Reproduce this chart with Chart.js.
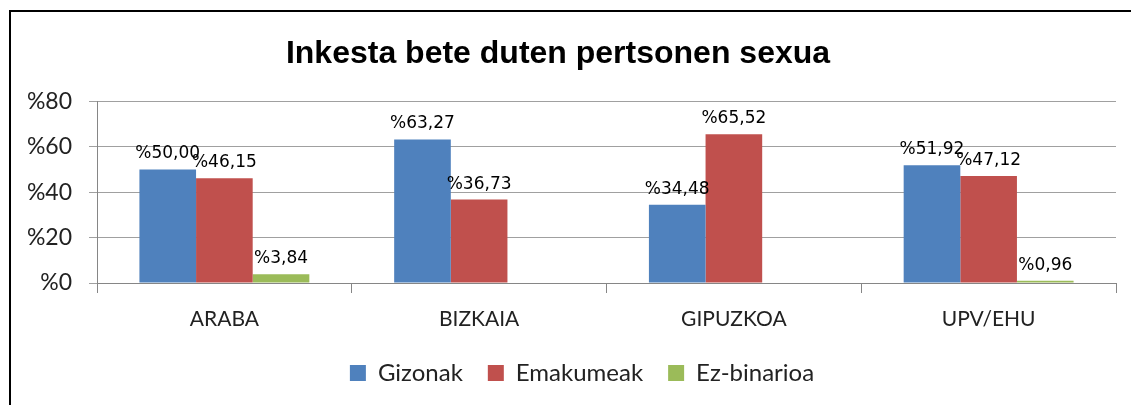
<!DOCTYPE html>
<html>
<head>
<meta charset="utf-8">
<script src="https://cdn.jsdelivr.net/npm/chart.js@4.4.0/dist/chart.umd.min.js"></script>
<style>
    html, body { margin: 0; padding: 0; background: #fff; }
    #wrap { position: relative; width: 1131px; height: 405px; overflow: hidden; }
    #frame { position: absolute; left: 9px; top: 10px; width: 1200px; height: 500px; border-left: 2px solid #000; border-top: 2px solid #000; }
    #chart { position: absolute; left: 0; top: 0; }
</style>
</head>
<body>
<div id="wrap">
    <div id="frame"></div>
    <canvas id="chart" width="1131" height="405"></canvas>
</div>
<script>
// Data
const chartTitle = 'Inkesta bete duten pertsonen sexua';
const categories = ['ARABA', 'BIZKAIA', 'GIPUZKOA', 'UPV/EHU'];
const seriesNames = ['Gizonak', 'Emakumeak', 'Ez-binarioa'];
const gizonak = [50.00, 63.27, 34.48, 51.92];
const emakumeak = [46.15, 36.73, 65.52, 47.12];
const ezBinarioa = [3.84, 0, 0, 0.96];
const yTicks = [0, 20, 40, 60, 80];

const colors = ['#4F81BD', '#C0504D', '#9BBB59'];
const seriesValues = [gizonak, emakumeak, ezBinarioa];

function fmtPct(v) {
    return '%' + v.toFixed(2).replace('.', ',');
}

// Excel-like value labels over the bars (zero values get no label)
const barLabels = {
    id: 'barLabels',
    afterDatasetsDraw(chart) {
        const ctx = chart.ctx;
        ctx.save();
        ctx.font = '17px "DejaVu Sans"';
        ctx.fillStyle = '#000';
        ctx.textAlign = 'center';
        ctx.textBaseline = 'bottom';
        chart.data.datasets.forEach((ds, i) => {
            const meta = chart.getDatasetMeta(i);
            meta.data.forEach((bar, j) => {
                const v = ds.data[j];
                if (!v) return;
                ctx.fillText(fmtPct(v), bar.x, bar.y - 7);
            });
        });
        ctx.restore();
    }
};

// the legend sits a bit right of the canvas centre in the original
const legendNudge = {
    id: 'legendNudge',
    afterLayout(chart) {
        if (!chart.legend) return;
        chart.legend.left += 24;
        chart.legend.right += 24;
    }
};

new Chart(document.getElementById('chart'), {
    type: 'bar',
    data: {
        labels: categories,
        datasets: seriesNames.map((name, i) => ({
            label: name,
            data: seriesValues[i],
            backgroundColor: colors[i],
            borderWidth: 0,
            categoryPercentage: 0.667,
            barPercentage: 1.0
        }))
    },
    options: {
        responsive: false,
        animation: false,
        layout: { padding: { left: 0, right: 15, top: 0, bottom: 10 } },
        plugins: {
            tooltip: { enabled: false },
            title: {
                display: true,
                text: chartTitle,
                color: '#000',
                font: { family: '"Liberation Sans"', size: 32, weight: 'bold' },
                padding: { top: 35, bottom: 28 }
            },
            legend: {
                position: 'bottom',
                labels: {
                    color: '#222',
                    font: { family: 'Lato', size: 24 },
                    boxWidth: 16,
                    boxHeight: 16,
                    padding: 25
                }
            }
        },
        scales: {
            x: {
                afterFit: (scale) => { scale.height = 53; },
                grid: { display: true, drawOnChartArea: false, drawTicks: true, tickLength: 10, color: '#868686', offset: true },
                border: { display: true, color: '#868686' },
                ticks: { color: '#222', font: { family: 'Lato', size: 21 }, padding: 14 }
            },
            y: {
                min: 0,
                max: 80,
                afterBuildTicks: (scale) => { scale.ticks = yTicks.map(v => ({ value: v })); },
                afterFit: (scale) => { scale.width = 97; },
                grid: { color: '#A0A0A0', tickLength: 8 },
                border: { display: true, color: '#868686' },
                ticks: {
                    color: '#222',
                    font: { family: 'Lato', size: 23 },
                    padding: 17,
                    callback: (v) => '%' + v
                }
            }
        }
    },
    plugins: [barLabels, legendNudge]
});
</script>
</body>
</html>
